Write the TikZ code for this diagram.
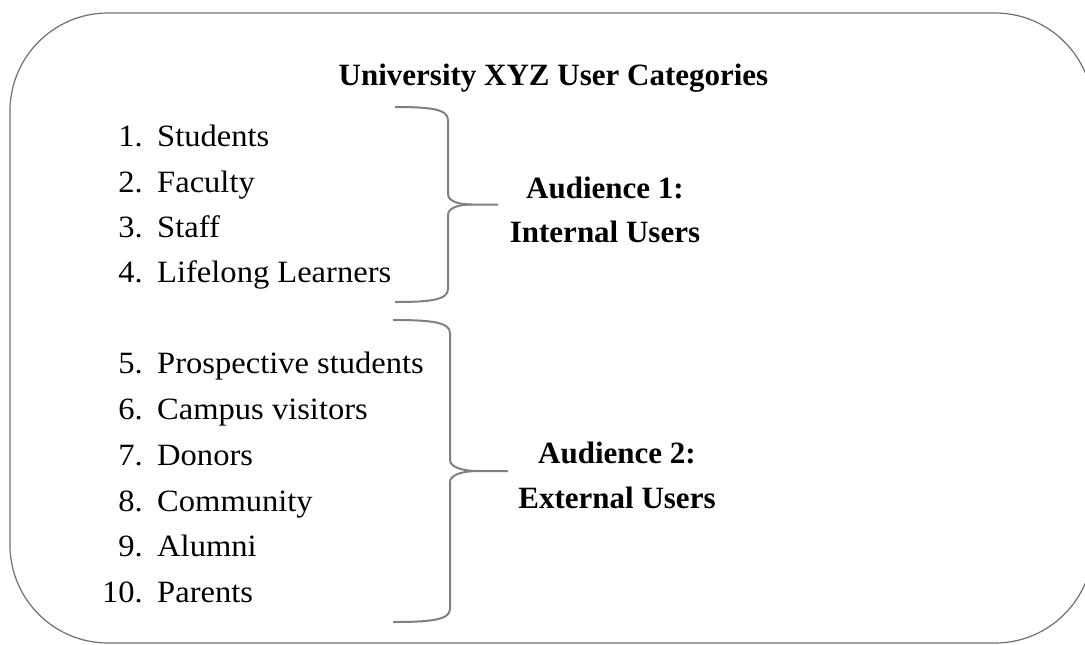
\documentclass[tikz,border=0pt]{standalone}
\usepackage{fontspec}
\setmainfont{Liberation Serif}[UprightFeatures={FakeStretch=1.05}]
\definecolor{framecol}{RGB}{112,112,112}
\definecolor{bracecol}{RGB}{128,128,128}
\tikzset{
  txt/.style={inner sep=0pt, font=\fontsize{31}{45.5}\selectfont},
  numtxt/.style={txt, anchor=base east},
  itemtxt/.style={txt, anchor=base west},
  boldtxt/.style={txt, font=\fontsize{31}{44}\selectfont\bfseries, align=center},
  bracepath/.style={draw=bracecol, line width=2pt, line join=round},
  framepath/.style={draw=framecol, line width=1.2pt}
}
\begin{document}
\begin{tikzpicture}[x=1pt,y=-1pt]
\useasboundingbox (0,0) rectangle (1085,645);
\begin{scope}
\clip (0,0) rectangle (1085,645);
\draw[framepath, rounded corners=98pt] (10,13) rectangle (1093,643);
\end{scope}
% title
\node[boldtxt, anchor=base] (title) at (553.5,85) {University XYZ User Categories};
% items
\foreach \n/\t/\y in {1/Students/146, 2/Faculty/192, 3/Staff/237, 4/Lifelong Learners/282,
  5/Prospective students/373, 6/Campus visitors/419, 7/Donors/465, 8/Community/511,
  9/Alumni/556, 10/Parents/602}{
  \node[numtxt] (num\n) at (143,\y) {\n.};
  \node[itemtxt] (item\n) at (157,\y) {\t};
}
% brace 1
\coordinate (b1top) at (395,107);
\coordinate (b1tip) at (498,204.5);
\coordinate (b1bot) at (395,302);
\draw[bracepath] (b1top) .. controls (430,107) and (448,109) .. (448,120)
  -- (448,194) .. controls (448,201) and (458,204.5) .. (472,204.5) -- (b1tip);
\draw[bracepath] (472,204.5) .. controls (458,204.5) and (448,208) .. (448,215)
  -- (448,289) .. controls (448,300) and (430,302) .. (b1bot);
% brace 2
\coordinate (b2top) at (393,320);
\coordinate (b2tip) at (508,471);
\coordinate (b2bot) at (393,622);
\draw[bracepath] (b2top) .. controls (430,320) and (450,322) .. (450,333)
  -- (450,460) .. controls (450,467) and (462,471) .. (478,471) -- (b2tip);
\draw[bracepath] (478,471) .. controls (462,471) and (450,475) .. (450,482)
  -- (450,609) .. controls (450,620) and (430,622) .. (b2bot);
% audiences
\node[boldtxt, anchor=base] (aud1a) at (605,198) {Audience 1:};
\node[boldtxt, anchor=base] (aud1b) at (605,242) {Internal Users};
\node[boldtxt, anchor=base] (aud2a) at (617,463) {Audience 2:};
\node[boldtxt, anchor=base] (aud2b) at (617,508) {External Users};
\end{tikzpicture}
\end{document}
